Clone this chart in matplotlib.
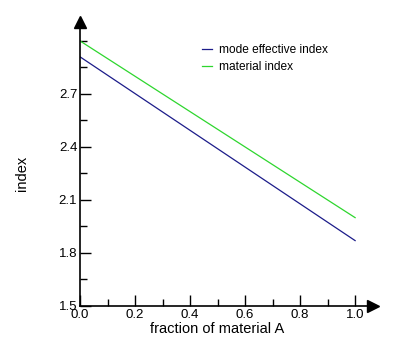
import matplotlib
matplotlib.use('Agg')
import matplotlib.pyplot as plt
from matplotlib.ticker import MultipleLocator

plt.rcParams['font.family'] = ['Liberation Sans', 'DejaVu Sans']

# data
fraction = [0.0, 1.0]
mode_index = [2.91, 1.87]
material_index = [3.0, 2.0]
x_ticks = [0.0, 0.2, 0.4, 0.6, 0.8, 1.0]
y_ticks = [1.5, 1.8, 2.1, 2.4, 2.7]

x_max, y_min, y_max = 1.065, 1.5, 3.107

fig = plt.figure(figsize=(3.96, 3.56), dpi=100)
ax = fig.add_axes([80 / 396, 1 - 306 / 356, 293 / 396, 284 / 356])

ax.plot(fraction, mode_index, color='#1c1c8a', lw=0.9, label='mode effective index')
ax.plot(fraction, material_index, color='#2ed62e', lw=0.9, label='material index')

ax.set_xlim(0, x_max)
ax.set_ylim(y_min, y_max)
ax.set_xticks(x_ticks)
ax.set_xticklabels([f'{v:.1f}' for v in x_ticks])
ax.set_yticks(y_ticks)
ax.set_yticklabels([f'{v:.1f}' for v in y_ticks])
ax.xaxis.set_minor_locator(MultipleLocator(0.1))
ax.yaxis.set_minor_locator(MultipleLocator(0.15))

for s in ['top', 'right']:
    ax.spines[s].set_visible(False)
for s in ['left', 'bottom']:
    ax.spines[s].set_linewidth(1.2)

ax.tick_params(which='major', direction='in', length=8, width=1, labelsize=9.5, pad=2)
ax.tick_params(which='minor', direction='in', length=5, width=1)
ax.tick_params(axis='x', pad=2)

# axis arrows
ax.plot([0], [y_max], marker='^', color='black', ms=9, clip_on=False)
ax.plot([x_max], [y_min], marker='>', color='black', ms=9, clip_on=False)

ax.set_xlabel('fraction of material A', fontsize=10.5, labelpad=0)
ax.xaxis.set_label_coords(0.5 / x_max, -0.055)
ax.set_ylabel('index', fontsize=10.5)
ax.yaxis.set_label_coords(-0.175, (2.25 - y_min) / (y_max - y_min))

fig.legend(loc='upper left', bbox_to_anchor=(202 / 396, 1 - 44 / 356), frameon=False,
           fontsize=8.6, handlelength=0.8, handletextpad=0.6, labelspacing=0.4,
           borderpad=0, borderaxespad=0)

plt.savefig('out.png', dpi=100)
plt.close()
